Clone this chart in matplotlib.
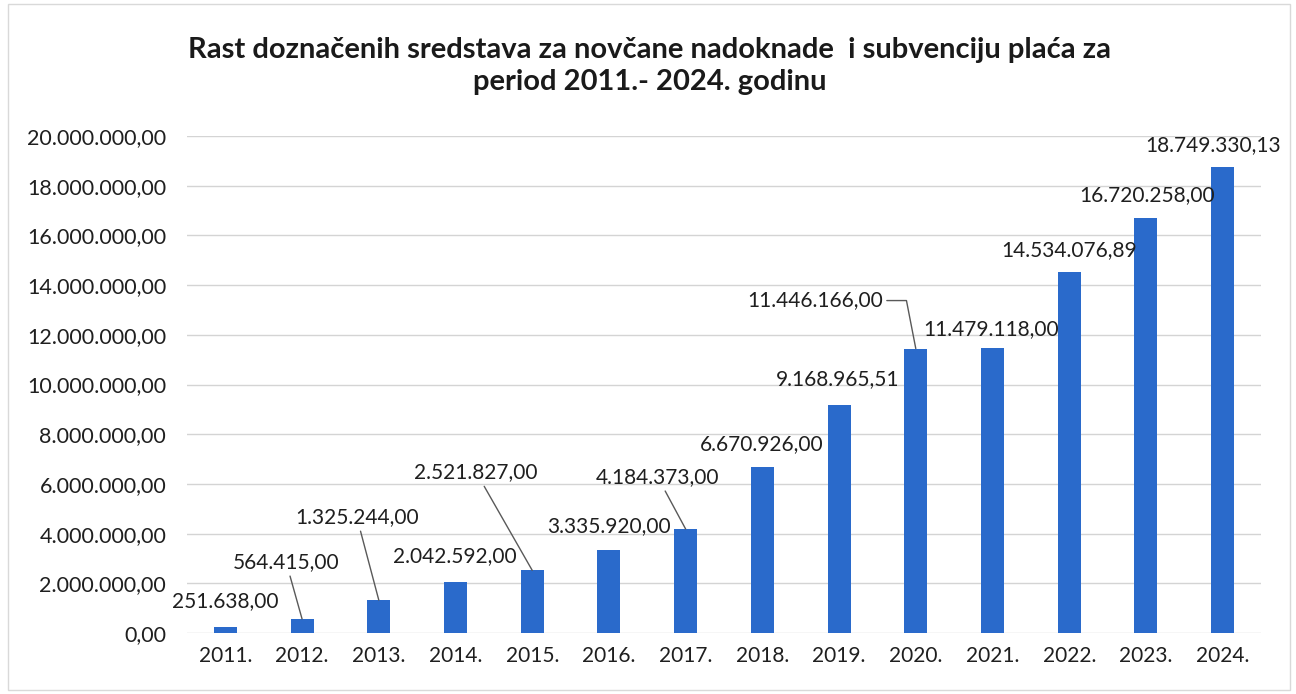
import matplotlib
matplotlib.use("Agg")
import matplotlib.pyplot as plt
from matplotlib.ticker import FuncFormatter, MultipleLocator
from matplotlib.patches import Rectangle

# ---- data ----
years = ["2011.", "2012.", "2013.", "2014.", "2015.", "2016.", "2017.",
         "2018.", "2019.", "2020.", "2021.", "2022.", "2023.", "2024."]
values = [251638.00, 564415.00, 1325244.00, 2042592.00, 2521827.00,
          3335920.00, 4184373.00, 6670926.00, 9168965.51, 11446166.00,
          11479118.00, 14534076.89, 16720258.00, 18749330.13]
title = "Rast doznačenih sredstava za novčane nadoknade  i subvenciju plaća za\nperiod 2011.- 2024. godinu"

# ---- label layout (pixel offsets of label centre from bar top) ----
label_offsets = [(0, 26), (-16, 57), (-22, 83), (-1, 26), (-56, 98), (0, 24),
                 (-28, 52), (-1, 23), (-1, 26), (-101, 48), (-1, 19), (0, 22),
                 (1, 22), (-10, 22)]
leader = [False, True, True, False, True, False, True, False, False, True,
          False, False, False, False]

FONT = "Lato"
BAR_COLOR = "#2a6acb"
TXT = "#1f1f1f"


def fmt(v, pos=None):
    s = f"{v:,.2f}"
    return s.replace(",", "X").replace(".", ",").replace("X", ".")


fig = plt.figure(figsize=(12.96, 6.94), dpi=100)
fig.patch.set_facecolor("white")
ax = fig.add_axes([187 / 1296, 1 - 633 / 694, (1261 - 187) / 1296, (633 - 136) / 694])

x = list(range(len(years)))
bars = ax.bar(x, values, width=0.30, color=BAR_COLOR, zorder=3)

ax.set_xlim(-0.5, len(years) - 0.5)
ax.set_ylim(0, 20_000_000)
ax.yaxis.set_major_locator(MultipleLocator(2_000_000))
ax.yaxis.set_major_formatter(FuncFormatter(fmt))
ax.set_xticks(x)
ax.set_xticklabels(years)
ax.grid(axis="y", color="#d4d4d4", linewidth=1.0, zorder=0)
ax.set_axisbelow(True)
for s in ax.spines.values():
    s.set_visible(False)
ax.tick_params(axis="y", length=0, pad=15, labelsize=15.5, labelcolor=TXT)
ax.tick_params(axis="x", length=0, pad=9, labelsize=15, labelcolor=TXT)
for lab in ax.get_xticklabels() + ax.get_yticklabels():
    lab.set_fontfamily(FONT)

for i, (xi, v) in enumerate(zip(x, values)):
    dx, dy = label_offsets[i]
    kw = {}
    if leader[i]:
        cs = "arc3"
        if i == 9:
            cs = "angle,angleA=0,angleB=101,rad=0"
        kw["arrowprops"] = dict(arrowstyle="-", color="#595959", lw=1.0,
                                shrinkA=1, shrinkB=0, connectionstyle=cs)
    ax.annotate(fmt(v), xy=(xi, v), xytext=(dx, dy), textcoords="offset pixels",
                ha="center", va="center", fontsize=15, fontfamily=FONT,
                color=TXT, zorder=5, annotation_clip=False, **kw)

fig.text(650 / 1296, 1 - 66 / 694, title, ha="center", va="center",
         fontsize=21, fontweight="bold", fontfamily=FONT, color="#1a1a1a",
         linespacing=1.3)

fig.patches.append(Rectangle((8 / 1296, 4 / 694), 1282 / 1296, 686 / 694,
                             transform=fig.transFigure, fill=False,
                             edgecolor="#d9d9d9", linewidth=1.0))

fig.savefig("out.png", dpi=100, facecolor="white")
